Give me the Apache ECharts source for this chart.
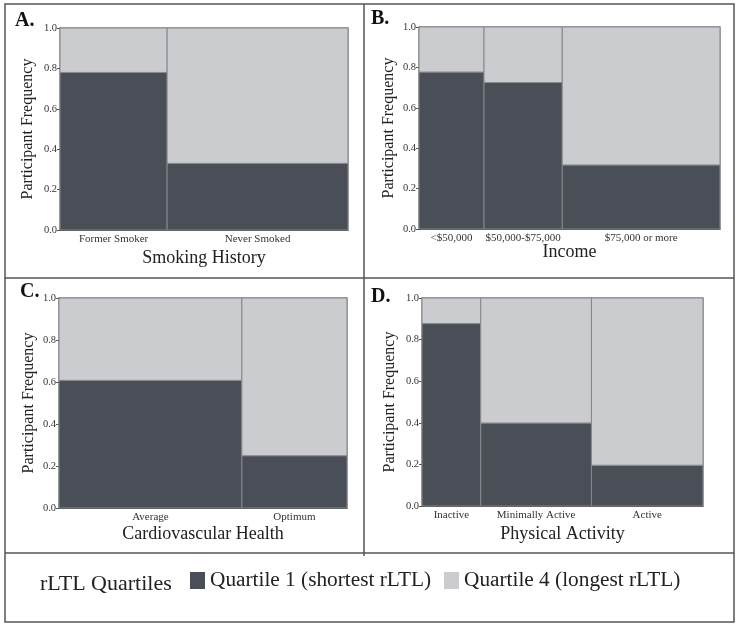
<!DOCTYPE html>
<html>
<head>
<meta charset="utf-8">
<script src="https://cdn.jsdelivr.net/npm/echarts@6/dist/echarts.min.js"></script>
<style>
html,body{margin:0;padding:0;background:#fff;}
#main{width:745px;height:631px;}
</style>
</head>
<body>
<div id="main"></div>
<script>
// ---- Data ----
const smokingCats = ['Former Smoker', 'Never Smoked'];
const smokingShare = [0.372, 0.628];
const smokingQ1 = [0.78, 0.33];

const incomeCats = ['<$50,000', '$50,000-$75,000', '$75,000 or more'];
const incomeShare = [0.216, 0.260, 0.524];
const incomeQ1 = [0.777, 0.725, 0.317];

const cvhCats = ['Average', 'Optimum'];
const cvhShare = [0.635, 0.365];
const cvhQ1 = [0.608, 0.249];

const paCats = ['Inactive', 'Minimally Active', 'Active'];
const paShare = [0.209, 0.394, 0.397];
const paQ1 = [0.877, 0.399, 0.196];

const yTicks = [0, 0.2, 0.4, 0.6, 0.8, 1.0];

const Q1NAME = 'Quartile 1 (shortest rLTL)';
const Q4NAME = 'Quartile 4 (longest rLTL)';
const DARK = '#4a4f57';
const LIGHT = '#cbcccf';
const SERIF = '"Liberation Serif", "DejaVu Serif", serif';

const panels = [
  {letter: 'A.', cats: smokingCats, share: smokingShare, q1: smokingQ1, title: 'Smoking History',
   grid: {left: 60, top: 28, width: 288, height: 202}, letterPos: [15, 11], yGap: 24, xGap: 19, catOff: 4},
  {letter: 'B.', cats: incomeCats, share: incomeShare, q1: incomeQ1, title: 'Income',
   grid: {left: 419, top: 27, width: 301, height: 202}, letterPos: [371, 9], yGap: 22, xGap: 14, catOff: 4},
  {letter: 'C.', cats: cvhCats, share: cvhShare, q1: cvhQ1, title: 'Cardiovascular Health',
   grid: {left: 59, top: 298, width: 288, height: 210}, letterPos: [20, 282], yGap: 22, xGap: 17, catOff: 4},
  {letter: 'D.', cats: paCats, share: paShare, q1: paQ1, title: 'Physical Activity',
   grid: {left: 422, top: 298, width: 281, height: 208}, letterPos: [371, 287], yGap: 24, xGap: 19, catOff: 4}
];

const grids = [], xAxes = [], yAxes = [], series = [], graphics = [];

panels.forEach(function (p, i) {
  grids.push(Object.assign({show: true, borderColor: '#8e8f92', borderWidth: 1.5, backgroundColor: 'transparent'}, p.grid));
  xAxes.push({
    type: 'value', gridIndex: i, min: 0, max: 1,
    name: p.title, nameLocation: 'middle', nameGap: p.xGap,
    nameTextStyle: {fontFamily: SERIF, fontSize: 18, color: '#222'},
    axisLabel: {show: false}, axisTick: {show: false}, splitLine: {show: false},
    axisLine: {show: true, lineStyle: {color: '#444', width: 1}}
  });
  yAxes.push({
    type: 'value', gridIndex: i, min: 0, max: 1, interval: 0.2,
    name: 'Participant Frequency', nameLocation: 'middle', nameGap: p.yGap, nameRotate: 90,
    nameTextStyle: {fontFamily: SERIF, fontSize: 16, color: '#222'},
    axisLabel: {fontFamily: SERIF, fontSize: 10.5, color: '#333', margin: 3,
      formatter: function (v) { return v.toFixed(1); }},
    axisTick: {show: true, length: 3, lineStyle: {color: '#555'}},
    axisLine: {show: true, lineStyle: {color: '#444', width: 1}},
    splitLine: {show: false}
  });

  // build column extents from shares
  const q1Data = [], q4Data = [];
  let acc = 0;
  p.cats.forEach(function (c, j) {
    const x0 = acc, x1 = acc + p.share[j];
    acc = x1;
    q1Data.push([x0, x1, 0, p.q1[j], c]);
    q4Data.push([x0, x1, p.q1[j], 1, c]);
  });

  const makeRender = function (fill, withLabel) {
    return function (params, api) {
      const x0 = api.value(0), x1 = api.value(1), y0 = api.value(2), y1 = api.value(3);
      const a = api.coord([x0, y1]);
      const b = api.coord([x1, y0]);
      const children = [{
        type: 'rect',
        shape: {x: a[0], y: a[1], width: b[0] - a[0], height: b[1] - a[1]},
        style: {fill: fill, stroke: '#85878b', lineWidth: 1}
      }];
      if (withLabel) {
        const c = api.coord([(x0 + x1) / 2, 0]);
        children.push({
          type: 'text',
          style: {text: p.cats[params.dataIndex], x: c[0], y: c[1] + p.catOff,
            textAlign: 'center', textVerticalAlign: 'top',
            fontFamily: SERIF, fontSize: 11, fill: '#333'}
        });
      }
      return {type: 'group', children: children};
    };
  };

  series.push({
    type: 'custom', name: Q1NAME, xAxisIndex: i, yAxisIndex: i,
    itemStyle: {color: DARK},
    encode: {x: [0, 1], y: [2, 3]},
    renderItem: makeRender(DARK, true), data: q1Data, clip: false
  });
  series.push({
    type: 'custom', name: Q4NAME, xAxisIndex: i, yAxisIndex: i,
    itemStyle: {color: LIGHT},
    encode: {x: [0, 1], y: [2, 3]},
    renderItem: makeRender(LIGHT, false), data: q4Data, clip: false
  });

  graphics.push({
    type: 'text', left: p.letterPos[0], top: p.letterPos[1],
    style: {text: p.letter, fontFamily: SERIF, fontSize: 20, fontWeight: 'bold', fill: '#111'}
  });
});

// frame lines
const frameColor = '#555';
graphics.push({type: 'rect', shape: {x: 5, y: 4, width: 729, height: 618}, style: {fill: 'none', stroke: frameColor, lineWidth: 1.5}, silent: true});
graphics.push({type: 'line', shape: {x1: 364, y1: 4, x2: 364, y2: 556}, style: {stroke: frameColor, lineWidth: 1.5}, silent: true});
graphics.push({type: 'line', shape: {x1: 5, y1: 278, x2: 734, y2: 278}, style: {stroke: frameColor, lineWidth: 1.5}, silent: true});
graphics.push({type: 'line', shape: {x1: 5, y1: 553, x2: 734, y2: 553}, style: {stroke: frameColor, lineWidth: 1.5}, silent: true});
graphics.push({
  type: 'text', left: 40, top: 573,
  style: {text: 'rLTL Quartiles', fontFamily: SERIF, fontSize: 22, fill: '#222'}
});

const chart = echarts.init(document.getElementById('main'), null, {renderer: 'canvas'});
chart.setOption({
  animation: false,
  backgroundColor: '#fff',
  grid: grids,
  xAxis: xAxes,
  yAxis: yAxes,
  legend: {
    data: [{name: Q1NAME, icon: 'rect'}, {name: Q4NAME, icon: 'rect'}],
    left: 190, top: 570, padding: 0, itemWidth: 15, itemHeight: 17, itemGap: 13,
    textStyle: {fontFamily: SERIF, fontSize: 21.3, color: '#222'}
  },
  graphic: graphics,
  series: series
});
</script>
</body>
</html>
